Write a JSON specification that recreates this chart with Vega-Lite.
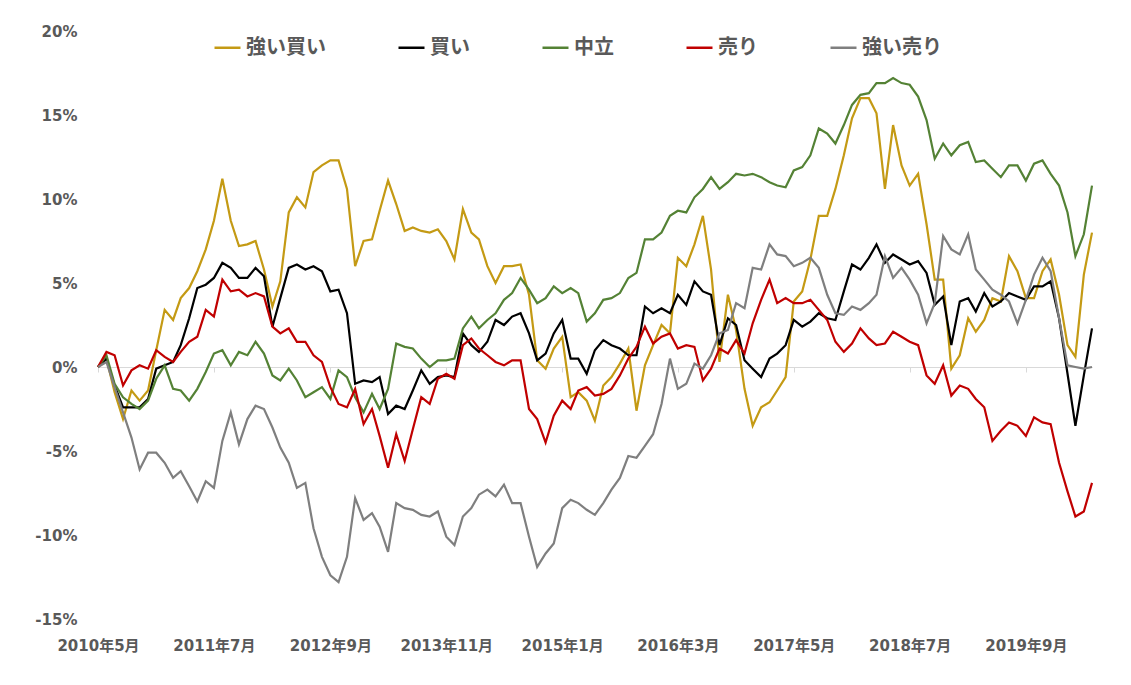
{
  "$schema": "https://vega.github.io/schema/vega-lite/v6.json",
  "width": 994,
  "height": 588,
  "autosize": "none",
  "padding": {"left": 98, "top": 31, "right": 39, "bottom": 66},
  "background": "white",
  "data": {"values": [
    {"m":"2010-05","s":"強い買い","v":0},{"m":"2010-06","s":"強い買い","v":0.5},{"m":"2010-07","s":"強い買い","v":-1.5},{"m":"2010-08","s":"強い買い","v":-3.1},{"m":"2010-09","s":"強い買い","v":-1.4},{"m":"2010-10","s":"強い買い","v":-2.0},{"m":"2010-11","s":"強い買い","v":-1.4},{"m":"2010-12","s":"強い買い","v":1.0},
    {"m":"2011-01","s":"強い買い","v":3.4},{"m":"2011-02","s":"強い買い","v":2.8},{"m":"2011-03","s":"強い買い","v":4.1},{"m":"2011-04","s":"強い買い","v":4.7},{"m":"2011-05","s":"強い買い","v":5.7},{"m":"2011-06","s":"強い買い","v":7.0},{"m":"2011-07","s":"強い買い","v":8.7},{"m":"2011-08","s":"強い買い","v":11.2},{"m":"2011-09","s":"強い買い","v":8.7},{"m":"2011-10","s":"強い買い","v":7.2},{"m":"2011-11","s":"強い買い","v":7.3},{"m":"2011-12","s":"強い買い","v":7.5},
    {"m":"2012-01","s":"強い買い","v":5.8},{"m":"2012-02","s":"強い買い","v":3.6},{"m":"2012-03","s":"強い買い","v":5.1},{"m":"2012-04","s":"強い買い","v":9.2},{"m":"2012-05","s":"強い買い","v":10.1},{"m":"2012-06","s":"強い買い","v":9.5},{"m":"2012-07","s":"強い買い","v":11.6},{"m":"2012-08","s":"強い買い","v":12.0},{"m":"2012-09","s":"強い買い","v":12.3},{"m":"2012-10","s":"強い買い","v":12.3},{"m":"2012-11","s":"強い買い","v":10.6},{"m":"2012-12","s":"強い買い","v":6.0},
    {"m":"2013-01","s":"強い買い","v":7.5},{"m":"2013-02","s":"強い買い","v":7.6},{"m":"2013-03","s":"強い買い","v":9.3},{"m":"2013-04","s":"強い買い","v":11.1},{"m":"2013-05","s":"強い買い","v":9.7},{"m":"2013-06","s":"強い買い","v":8.1},{"m":"2013-07","s":"強い買い","v":8.3},{"m":"2013-08","s":"強い買い","v":8.1},{"m":"2013-09","s":"強い買い","v":8.0},{"m":"2013-10","s":"強い買い","v":8.2},{"m":"2013-11","s":"強い買い","v":7.5},{"m":"2013-12","s":"強い買い","v":6.4},
    {"m":"2014-01","s":"強い買い","v":9.4},{"m":"2014-02","s":"強い買い","v":8.0},{"m":"2014-03","s":"強い買い","v":7.6},{"m":"2014-04","s":"強い買い","v":6.0},{"m":"2014-05","s":"強い買い","v":5.0},{"m":"2014-06","s":"強い買い","v":6.0},{"m":"2014-07","s":"強い買い","v":6.0},{"m":"2014-08","s":"強い買い","v":6.1},{"m":"2014-09","s":"強い買い","v":4.3},{"m":"2014-10","s":"強い買い","v":0.4},{"m":"2014-11","s":"強い買い","v":-0.1},{"m":"2014-12","s":"強い買い","v":1.1},
    {"m":"2015-01","s":"強い買い","v":1.8},{"m":"2015-02","s":"強い買い","v":-1.8},{"m":"2015-03","s":"強い買い","v":-1.5},{"m":"2015-04","s":"強い買い","v":-2.0},{"m":"2015-05","s":"強い買い","v":-3.2},{"m":"2015-06","s":"強い買い","v":-1.1},{"m":"2015-07","s":"強い買い","v":-0.6},{"m":"2015-08","s":"強い買い","v":0.2},{"m":"2015-09","s":"強い買い","v":1.1},{"m":"2015-10","s":"強い買い","v":-2.6},{"m":"2015-11","s":"強い買い","v":0.1},{"m":"2015-12","s":"強い買い","v":1.3},
    {"m":"2016-01","s":"強い買い","v":2.5},{"m":"2016-02","s":"強い買い","v":2.0},{"m":"2016-03","s":"強い買い","v":6.5},{"m":"2016-04","s":"強い買い","v":6.0},{"m":"2016-05","s":"強い買い","v":7.3},{"m":"2016-06","s":"強い買い","v":9.0},{"m":"2016-07","s":"強い買い","v":5.8},{"m":"2016-08","s":"強い買い","v":0.3},{"m":"2016-09","s":"強い買い","v":4.3},{"m":"2016-10","s":"強い買い","v":2.2},{"m":"2016-11","s":"強い買い","v":-1.3},{"m":"2016-12","s":"強い買い","v":-3.5},
    {"m":"2017-01","s":"強い買い","v":-2.4},{"m":"2017-02","s":"強い買い","v":-2.1},{"m":"2017-03","s":"強い買い","v":-1.4},{"m":"2017-04","s":"強い買い","v":-0.6},{"m":"2017-05","s":"強い買い","v":3.9},{"m":"2017-06","s":"強い買い","v":4.5},{"m":"2017-07","s":"強い買い","v":6.4},{"m":"2017-08","s":"強い買い","v":9.0},{"m":"2017-09","s":"強い買い","v":9.0},{"m":"2017-10","s":"強い買い","v":10.6},{"m":"2017-11","s":"強い買い","v":12.6},{"m":"2017-12","s":"強い買い","v":14.8},
    {"m":"2018-01","s":"強い買い","v":16.0},{"m":"2018-02","s":"強い買い","v":16.0},{"m":"2018-03","s":"強い買い","v":15.1},{"m":"2018-04","s":"強い買い","v":10.6},{"m":"2018-05","s":"強い買い","v":14.4},{"m":"2018-06","s":"強い買い","v":12.0},{"m":"2018-07","s":"強い買い","v":10.8},{"m":"2018-08","s":"強い買い","v":11.5},{"m":"2018-09","s":"強い買い","v":8.5},{"m":"2018-10","s":"強い買い","v":5.2},{"m":"2018-11","s":"強い買い","v":5.2},{"m":"2018-12","s":"強い買い","v":-0.1},
    {"m":"2019-01","s":"強い買い","v":0.7},{"m":"2019-02","s":"強い買い","v":2.9},{"m":"2019-03","s":"強い買い","v":2.1},{"m":"2019-04","s":"強い買い","v":2.8},{"m":"2019-05","s":"強い買い","v":4.1},{"m":"2019-06","s":"強い買い","v":3.9},{"m":"2019-07","s":"強い買い","v":6.6},{"m":"2019-08","s":"強い買い","v":5.7},{"m":"2019-09","s":"強い買い","v":4.1},{"m":"2019-10","s":"強い買い","v":4.1},{"m":"2019-11","s":"強い買い","v":5.7},{"m":"2019-12","s":"強い買い","v":6.4},
    {"m":"2020-01","s":"強い買い","v":4.3},{"m":"2020-02","s":"強い買い","v":1.3},{"m":"2020-03","s":"強い買い","v":0.6},{"m":"2020-04","s":"強い買い","v":5.5},{"m":"2020-05","s":"強い買い","v":8.0},

    {"m":"2010-05","s":"買い","v":0},{"m":"2010-06","s":"買い","v":0.5},{"m":"2010-07","s":"買い","v":-1.1},{"m":"2010-08","s":"買い","v":-2.4},{"m":"2010-09","s":"買い","v":-2.4},{"m":"2010-10","s":"買い","v":-2.4},{"m":"2010-11","s":"買い","v":-1.9},{"m":"2010-12","s":"買い","v":-0.1},
    {"m":"2011-01","s":"買い","v":0.1},{"m":"2011-02","s":"買い","v":0.3},{"m":"2011-03","s":"買い","v":1.3},{"m":"2011-04","s":"買い","v":2.9},{"m":"2011-05","s":"買い","v":4.7},{"m":"2011-06","s":"買い","v":4.9},{"m":"2011-07","s":"買い","v":5.3},{"m":"2011-08","s":"買い","v":6.2},{"m":"2011-09","s":"買い","v":5.9},{"m":"2011-10","s":"買い","v":5.3},{"m":"2011-11","s":"買い","v":5.3},{"m":"2011-12","s":"買い","v":5.9},
    {"m":"2012-01","s":"買い","v":5.4},{"m":"2012-02","s":"買い","v":2.4},{"m":"2012-03","s":"買い","v":4.1},{"m":"2012-04","s":"買い","v":5.9},{"m":"2012-05","s":"買い","v":6.1},{"m":"2012-06","s":"買い","v":5.8},{"m":"2012-07","s":"買い","v":6.0},{"m":"2012-08","s":"買い","v":5.7},{"m":"2012-09","s":"買い","v":4.5},{"m":"2012-10","s":"買い","v":4.6},{"m":"2012-11","s":"買い","v":3.2},{"m":"2012-12","s":"買い","v":-1.0},
    {"m":"2013-01","s":"買い","v":-0.8},{"m":"2013-02","s":"買い","v":-0.9},{"m":"2013-03","s":"買い","v":-0.6},{"m":"2013-04","s":"買い","v":-2.8},{"m":"2013-05","s":"買い","v":-2.3},{"m":"2013-06","s":"買い","v":-2.5},{"m":"2013-07","s":"買い","v":-1.4},{"m":"2013-08","s":"買い","v":-0.2},{"m":"2013-09","s":"買い","v":-1.0},{"m":"2013-10","s":"買い","v":-0.6},{"m":"2013-11","s":"買い","v":-0.5},{"m":"2013-12","s":"買い","v":-0.6},
    {"m":"2014-01","s":"買い","v":2.0},{"m":"2014-02","s":"買い","v":1.3},{"m":"2014-03","s":"買い","v":0.9},{"m":"2014-04","s":"買い","v":1.5},{"m":"2014-05","s":"買い","v":2.8},{"m":"2014-06","s":"買い","v":2.5},{"m":"2014-07","s":"買い","v":3.0},{"m":"2014-08","s":"買い","v":3.2},{"m":"2014-09","s":"買い","v":2.0},{"m":"2014-10","s":"買い","v":0.4},{"m":"2014-11","s":"買い","v":0.8},{"m":"2014-12","s":"買い","v":2.0},
    {"m":"2015-01","s":"買い","v":2.8},{"m":"2015-02","s":"買い","v":0.5},{"m":"2015-03","s":"買い","v":0.5},{"m":"2015-04","s":"買い","v":-0.4},{"m":"2015-05","s":"買い","v":1.0},{"m":"2015-06","s":"買い","v":1.6},{"m":"2015-07","s":"買い","v":1.3},{"m":"2015-08","s":"買い","v":1.1},{"m":"2015-09","s":"買い","v":0.7},{"m":"2015-10","s":"買い","v":0.7},{"m":"2015-11","s":"買い","v":3.6},{"m":"2015-12","s":"買い","v":3.2},
    {"m":"2016-01","s":"買い","v":3.5},{"m":"2016-02","s":"買い","v":3.2},{"m":"2016-03","s":"買い","v":4.3},{"m":"2016-04","s":"買い","v":3.7},{"m":"2016-05","s":"買い","v":5.1},{"m":"2016-06","s":"買い","v":4.5},{"m":"2016-07","s":"買い","v":4.3},{"m":"2016-08","s":"買い","v":1.3},{"m":"2016-09","s":"買い","v":2.9},{"m":"2016-10","s":"買い","v":2.5},{"m":"2016-11","s":"買い","v":0.4},{"m":"2016-12","s":"買い","v":-0.1},
    {"m":"2017-01","s":"買い","v":-0.6},{"m":"2017-02","s":"買い","v":0.5},{"m":"2017-03","s":"買い","v":0.8},{"m":"2017-04","s":"買い","v":1.3},{"m":"2017-05","s":"買い","v":2.8},{"m":"2017-06","s":"買い","v":2.4},{"m":"2017-07","s":"買い","v":2.7},{"m":"2017-08","s":"買い","v":3.2},{"m":"2017-09","s":"買い","v":2.9},{"m":"2017-10","s":"買い","v":2.8},{"m":"2017-11","s":"買い","v":4.5},{"m":"2017-12","s":"買い","v":6.1},
    {"m":"2018-01","s":"買い","v":5.8},{"m":"2018-02","s":"買い","v":6.5},{"m":"2018-03","s":"買い","v":7.3},{"m":"2018-04","s":"買い","v":6.2},{"m":"2018-05","s":"買い","v":6.7},{"m":"2018-06","s":"買い","v":6.4},{"m":"2018-07","s":"買い","v":6.1},{"m":"2018-08","s":"買い","v":6.3},{"m":"2018-09","s":"買い","v":5.6},{"m":"2018-10","s":"買い","v":3.7},{"m":"2018-11","s":"買い","v":4.2},{"m":"2018-12","s":"買い","v":1.3},
    {"m":"2019-01","s":"買い","v":3.9},{"m":"2019-02","s":"買い","v":4.1},{"m":"2019-03","s":"買い","v":3.3},{"m":"2019-04","s":"買い","v":4.4},{"m":"2019-05","s":"買い","v":3.6},{"m":"2019-06","s":"買い","v":3.9},{"m":"2019-07","s":"買い","v":4.4},{"m":"2019-08","s":"買い","v":4.2},{"m":"2019-09","s":"買い","v":4.0},{"m":"2019-10","s":"買い","v":4.8},{"m":"2019-11","s":"買い","v":4.8},{"m":"2019-12","s":"買い","v":5.1},
    {"m":"2020-01","s":"買い","v":2.9},{"m":"2020-02","s":"買い","v":-0.4},{"m":"2020-03","s":"買い","v":-3.5},{"m":"2020-04","s":"買い","v":-0.5},{"m":"2020-05","s":"買い","v":2.3},

    {"m":"2010-05","s":"中立","v":0},{"m":"2010-06","s":"中立","v":0.7},{"m":"2010-07","s":"中立","v":-1.0},{"m":"2010-08","s":"中立","v":-1.8},{"m":"2010-09","s":"中立","v":-2.2},{"m":"2010-10","s":"中立","v":-2.5},{"m":"2010-11","s":"中立","v":-2.0},{"m":"2010-12","s":"中立","v":-0.7},
    {"m":"2011-01","s":"中立","v":0.1},{"m":"2011-02","s":"中立","v":-1.3},{"m":"2011-03","s":"中立","v":-1.4},{"m":"2011-04","s":"中立","v":-2.0},{"m":"2011-05","s":"中立","v":-1.3},{"m":"2011-06","s":"中立","v":-0.3},{"m":"2011-07","s":"中立","v":0.8},{"m":"2011-08","s":"中立","v":1.0},{"m":"2011-09","s":"中立","v":0.1},{"m":"2011-10","s":"中立","v":0.9},{"m":"2011-11","s":"中立","v":0.7},{"m":"2011-12","s":"中立","v":1.5},
    {"m":"2012-01","s":"中立","v":0.8},{"m":"2012-02","s":"中立","v":-0.5},{"m":"2012-03","s":"中立","v":-0.8},{"m":"2012-04","s":"中立","v":-0.1},{"m":"2012-05","s":"中立","v":-0.8},{"m":"2012-06","s":"中立","v":-1.8},{"m":"2012-07","s":"中立","v":-1.5},{"m":"2012-08","s":"中立","v":-1.2},{"m":"2012-09","s":"中立","v":-1.9},{"m":"2012-10","s":"中立","v":-0.2},{"m":"2012-11","s":"中立","v":-0.6},{"m":"2012-12","s":"中立","v":-1.8},
    {"m":"2013-01","s":"中立","v":-2.7},{"m":"2013-02","s":"中立","v":-1.6},{"m":"2013-03","s":"中立","v":-2.5},{"m":"2013-04","s":"中立","v":-1.3},{"m":"2013-05","s":"中立","v":1.4},{"m":"2013-06","s":"中立","v":1.2},{"m":"2013-07","s":"中立","v":1.1},{"m":"2013-08","s":"中立","v":0.5},{"m":"2013-09","s":"中立","v":0.0},{"m":"2013-10","s":"中立","v":0.4},{"m":"2013-11","s":"中立","v":0.4},{"m":"2013-12","s":"中立","v":0.5},
    {"m":"2014-01","s":"中立","v":2.3},{"m":"2014-02","s":"中立","v":3.0},{"m":"2014-03","s":"中立","v":2.3},{"m":"2014-04","s":"中立","v":2.8},{"m":"2014-05","s":"中立","v":3.2},{"m":"2014-06","s":"中立","v":4.0},{"m":"2014-07","s":"中立","v":4.4},{"m":"2014-08","s":"中立","v":5.3},{"m":"2014-09","s":"中立","v":4.6},{"m":"2014-10","s":"中立","v":3.8},{"m":"2014-11","s":"中立","v":4.1},{"m":"2014-12","s":"中立","v":4.8},
    {"m":"2015-01","s":"中立","v":4.4},{"m":"2015-02","s":"中立","v":4.7},{"m":"2015-03","s":"中立","v":4.4},{"m":"2015-04","s":"中立","v":2.7},{"m":"2015-05","s":"中立","v":3.2},{"m":"2015-06","s":"中立","v":4.0},{"m":"2015-07","s":"中立","v":4.1},{"m":"2015-08","s":"中立","v":4.4},{"m":"2015-09","s":"中立","v":5.3},{"m":"2015-10","s":"中立","v":5.6},{"m":"2015-11","s":"中立","v":7.6},{"m":"2015-12","s":"中立","v":7.6},
    {"m":"2016-01","s":"中立","v":8.0},{"m":"2016-02","s":"中立","v":9.0},{"m":"2016-03","s":"中立","v":9.3},{"m":"2016-04","s":"中立","v":9.2},{"m":"2016-05","s":"中立","v":10.1},{"m":"2016-06","s":"中立","v":10.6},{"m":"2016-07","s":"中立","v":11.3},{"m":"2016-08","s":"中立","v":10.6},{"m":"2016-09","s":"中立","v":11.0},{"m":"2016-10","s":"中立","v":11.5},{"m":"2016-11","s":"中立","v":11.4},{"m":"2016-12","s":"中立","v":11.5},
    {"m":"2017-01","s":"中立","v":11.3},{"m":"2017-02","s":"中立","v":11.0},{"m":"2017-03","s":"中立","v":10.8},{"m":"2017-04","s":"中立","v":10.7},{"m":"2017-05","s":"中立","v":11.7},{"m":"2017-06","s":"中立","v":11.9},{"m":"2017-07","s":"中立","v":12.6},{"m":"2017-08","s":"中立","v":14.2},{"m":"2017-09","s":"中立","v":13.9},{"m":"2017-10","s":"中立","v":13.3},{"m":"2017-11","s":"中立","v":14.4},{"m":"2017-12","s":"中立","v":15.6},
    {"m":"2018-01","s":"中立","v":16.2},{"m":"2018-02","s":"中立","v":16.3},{"m":"2018-03","s":"中立","v":16.9},{"m":"2018-04","s":"中立","v":16.9},{"m":"2018-05","s":"中立","v":17.2},{"m":"2018-06","s":"中立","v":16.9},{"m":"2018-07","s":"中立","v":16.8},{"m":"2018-08","s":"中立","v":16.1},{"m":"2018-09","s":"中立","v":14.7},{"m":"2018-10","s":"中立","v":12.4},{"m":"2018-11","s":"中立","v":13.3},{"m":"2018-12","s":"中立","v":12.6},
    {"m":"2019-01","s":"中立","v":13.2},{"m":"2019-02","s":"中立","v":13.4},{"m":"2019-03","s":"中立","v":12.2},{"m":"2019-04","s":"中立","v":12.3},{"m":"2019-05","s":"中立","v":11.8},{"m":"2019-06","s":"中立","v":11.3},{"m":"2019-07","s":"中立","v":12.0},{"m":"2019-08","s":"中立","v":12.0},{"m":"2019-09","s":"中立","v":11.1},{"m":"2019-10","s":"中立","v":12.1},{"m":"2019-11","s":"中立","v":12.3},{"m":"2019-12","s":"中立","v":11.5},
    {"m":"2020-01","s":"中立","v":10.8},{"m":"2020-02","s":"中立","v":9.2},{"m":"2020-03","s":"中立","v":6.6},{"m":"2020-04","s":"中立","v":7.9},{"m":"2020-05","s":"中立","v":10.8},

    {"m":"2010-05","s":"売り","v":0},{"m":"2010-06","s":"売り","v":0.9},{"m":"2010-07","s":"売り","v":0.7},{"m":"2010-08","s":"売り","v":-1.1},{"m":"2010-09","s":"売り","v":-0.2},{"m":"2010-10","s":"売り","v":0.1},{"m":"2010-11","s":"売り","v":-0.1},{"m":"2010-12","s":"売り","v":1.0},
    {"m":"2011-01","s":"売り","v":0.6},{"m":"2011-02","s":"売り","v":0.3},{"m":"2011-03","s":"売り","v":0.9},{"m":"2011-04","s":"売り","v":1.5},{"m":"2011-05","s":"売り","v":1.8},{"m":"2011-06","s":"売り","v":3.4},{"m":"2011-07","s":"売り","v":3.0},{"m":"2011-08","s":"売り","v":5.2},{"m":"2011-09","s":"売り","v":4.5},{"m":"2011-10","s":"売り","v":4.6},{"m":"2011-11","s":"売り","v":4.2},{"m":"2011-12","s":"売り","v":4.4},
    {"m":"2012-01","s":"売り","v":4.2},{"m":"2012-02","s":"売り","v":2.4},{"m":"2012-03","s":"売り","v":2.0},{"m":"2012-04","s":"売り","v":2.3},{"m":"2012-05","s":"売り","v":1.5},{"m":"2012-06","s":"売り","v":1.5},{"m":"2012-07","s":"売り","v":0.7},{"m":"2012-08","s":"売り","v":0.3},{"m":"2012-09","s":"売り","v":-1.2},{"m":"2012-10","s":"売り","v":-2.2},{"m":"2012-11","s":"売り","v":-2.4},{"m":"2012-12","s":"売り","v":-1.3},
    {"m":"2013-01","s":"売り","v":-3.4},{"m":"2013-02","s":"売り","v":-2.5},{"m":"2013-03","s":"売り","v":-4.1},{"m":"2013-04","s":"売り","v":-6.0},{"m":"2013-05","s":"売り","v":-4.0},{"m":"2013-06","s":"売り","v":-5.6},{"m":"2013-07","s":"売り","v":-3.7},{"m":"2013-08","s":"売り","v":-1.8},{"m":"2013-09","s":"売り","v":-2.2},{"m":"2013-10","s":"売り","v":-0.7},{"m":"2013-11","s":"売り","v":-0.4},{"m":"2013-12","s":"売り","v":-0.7},
    {"m":"2014-01","s":"売り","v":1.3},{"m":"2014-02","s":"売り","v":1.7},{"m":"2014-03","s":"売り","v":1.1},{"m":"2014-04","s":"売り","v":0.7},{"m":"2014-05","s":"売り","v":0.3},{"m":"2014-06","s":"売り","v":0.1},{"m":"2014-07","s":"売り","v":0.4},{"m":"2014-08","s":"売り","v":0.4},{"m":"2014-09","s":"売り","v":-2.5},{"m":"2014-10","s":"売り","v":-3.1},{"m":"2014-11","s":"売り","v":-4.5},{"m":"2014-12","s":"売り","v":-2.9},
    {"m":"2015-01","s":"売り","v":-2.0},{"m":"2015-02","s":"売り","v":-2.5},{"m":"2015-03","s":"売り","v":-1.4},{"m":"2015-04","s":"売り","v":-1.2},{"m":"2015-05","s":"売り","v":-1.7},{"m":"2015-06","s":"売り","v":-1.6},{"m":"2015-07","s":"売り","v":-1.3},{"m":"2015-08","s":"売り","v":-0.5},{"m":"2015-09","s":"売り","v":0.5},{"m":"2015-10","s":"売り","v":1.2},{"m":"2015-11","s":"売り","v":2.4},{"m":"2015-12","s":"売り","v":1.4},
    {"m":"2016-01","s":"売り","v":1.8},{"m":"2016-02","s":"売り","v":2.0},{"m":"2016-03","s":"売り","v":1.1},{"m":"2016-04","s":"売り","v":1.3},{"m":"2016-05","s":"売り","v":1.2},{"m":"2016-06","s":"売り","v":-0.8},{"m":"2016-07","s":"売り","v":-0.1},{"m":"2016-08","s":"売り","v":1.1},{"m":"2016-09","s":"売り","v":0.8},{"m":"2016-10","s":"売り","v":1.6},{"m":"2016-11","s":"売り","v":0.8},{"m":"2016-12","s":"売り","v":2.6},
    {"m":"2017-01","s":"売り","v":4.0},{"m":"2017-02","s":"売り","v":5.2},{"m":"2017-03","s":"売り","v":3.8},{"m":"2017-04","s":"売り","v":4.1},{"m":"2017-05","s":"売り","v":3.8},{"m":"2017-06","s":"売り","v":3.8},{"m":"2017-07","s":"売り","v":4.0},{"m":"2017-08","s":"売り","v":3.4},{"m":"2017-09","s":"売り","v":2.8},{"m":"2017-10","s":"売り","v":1.5},{"m":"2017-11","s":"売り","v":0.9},{"m":"2017-12","s":"売り","v":1.4},
    {"m":"2018-01","s":"売り","v":2.3},{"m":"2018-02","s":"売り","v":1.7},{"m":"2018-03","s":"売り","v":1.3},{"m":"2018-04","s":"売り","v":1.4},{"m":"2018-05","s":"売り","v":2.1},{"m":"2018-06","s":"売り","v":1.8},{"m":"2018-07","s":"売り","v":1.5},{"m":"2018-08","s":"売り","v":1.3},{"m":"2018-09","s":"売り","v":-0.5},{"m":"2018-10","s":"売り","v":-1.0},{"m":"2018-11","s":"売り","v":0.1},{"m":"2018-12","s":"売り","v":-1.7},
    {"m":"2019-01","s":"売り","v":-1.1},{"m":"2019-02","s":"売り","v":-1.3},{"m":"2019-03","s":"売り","v":-1.9},{"m":"2019-04","s":"売り","v":-2.4},{"m":"2019-05","s":"売り","v":-4.4},{"m":"2019-06","s":"売り","v":-3.8},{"m":"2019-07","s":"売り","v":-3.3},{"m":"2019-08","s":"売り","v":-3.5},{"m":"2019-09","s":"売り","v":-4.1},{"m":"2019-10","s":"売り","v":-3.0},{"m":"2019-11","s":"売り","v":-3.3},{"m":"2019-12","s":"売り","v":-3.4},
    {"m":"2020-01","s":"売り","v":-5.7},{"m":"2020-02","s":"売り","v":-7.4},{"m":"2020-03","s":"売り","v":-8.9},{"m":"2020-04","s":"売り","v":-8.6},{"m":"2020-05","s":"売り","v":-6.9},

    {"m":"2010-05","s":"強い売り","v":0},{"m":"2010-06","s":"強い売り","v":0.3},{"m":"2010-07","s":"強い売り","v":-1.2},{"m":"2010-08","s":"強い売り","v":-2.7},{"m":"2010-09","s":"強い売り","v":-4.2},{"m":"2010-10","s":"強い売り","v":-6.1},{"m":"2010-11","s":"強い売り","v":-5.1},{"m":"2010-12","s":"強い売り","v":-5.1},
    {"m":"2011-01","s":"強い売り","v":-5.7},{"m":"2011-02","s":"強い売り","v":-6.6},{"m":"2011-03","s":"強い売り","v":-6.2},{"m":"2011-04","s":"強い売り","v":-7.1},{"m":"2011-05","s":"強い売り","v":-8.0},{"m":"2011-06","s":"強い売り","v":-6.8},{"m":"2011-07","s":"強い売り","v":-7.2},{"m":"2011-08","s":"強い売り","v":-4.4},{"m":"2011-09","s":"強い売り","v":-2.7},{"m":"2011-10","s":"強い売り","v":-4.6},{"m":"2011-11","s":"強い売り","v":-3.1},{"m":"2011-12","s":"強い売り","v":-2.3},
    {"m":"2012-01","s":"強い売り","v":-2.5},{"m":"2012-02","s":"強い売り","v":-3.6},{"m":"2012-03","s":"強い売り","v":-4.8},{"m":"2012-04","s":"強い売り","v":-5.7},{"m":"2012-05","s":"強い売り","v":-7.2},{"m":"2012-06","s":"強い売り","v":-6.9},{"m":"2012-07","s":"強い売り","v":-9.6},{"m":"2012-08","s":"強い売り","v":-11.3},{"m":"2012-09","s":"強い売り","v":-12.4},{"m":"2012-10","s":"強い売り","v":-12.8},{"m":"2012-11","s":"強い売り","v":-11.3},{"m":"2012-12","s":"強い売り","v":-7.8},
    {"m":"2013-01","s":"強い売り","v":-9.1},{"m":"2013-02","s":"強い売り","v":-8.7},{"m":"2013-03","s":"強い売り","v":-9.5},{"m":"2013-04","s":"強い売り","v":-11.0},{"m":"2013-05","s":"強い売り","v":-8.1},{"m":"2013-06","s":"強い売り","v":-8.4},{"m":"2013-07","s":"強い売り","v":-8.5},{"m":"2013-08","s":"強い売り","v":-8.8},{"m":"2013-09","s":"強い売り","v":-8.9},{"m":"2013-10","s":"強い売り","v":-8.6},{"m":"2013-11","s":"強い売り","v":-10.1},{"m":"2013-12","s":"強い売り","v":-10.6},
    {"m":"2014-01","s":"強い売り","v":-8.9},{"m":"2014-02","s":"強い売り","v":-8.4},{"m":"2014-03","s":"強い売り","v":-7.6},{"m":"2014-04","s":"強い売り","v":-7.3},{"m":"2014-05","s":"強い売り","v":-7.7},{"m":"2014-06","s":"強い売り","v":-7.0},{"m":"2014-07","s":"強い売り","v":-8.1},{"m":"2014-08","s":"強い売り","v":-8.1},{"m":"2014-09","s":"強い売り","v":-10.1},{"m":"2014-10","s":"強い売り","v":-11.9},{"m":"2014-11","s":"強い売り","v":-11.1},{"m":"2014-12","s":"強い売り","v":-10.5},
    {"m":"2015-01","s":"強い売り","v":-8.4},{"m":"2015-02","s":"強い売り","v":-7.9},{"m":"2015-03","s":"強い売り","v":-8.1},{"m":"2015-04","s":"強い売り","v":-8.5},{"m":"2015-05","s":"強い売り","v":-8.8},{"m":"2015-06","s":"強い売り","v":-8.1},{"m":"2015-07","s":"強い売り","v":-7.3},{"m":"2015-08","s":"強い売り","v":-6.6},{"m":"2015-09","s":"強い売り","v":-5.3},{"m":"2015-10","s":"強い売り","v":-5.4},{"m":"2015-11","s":"強い売り","v":-4.7},{"m":"2015-12","s":"強い売り","v":-4.0},
    {"m":"2016-01","s":"強い売り","v":-2.2},{"m":"2016-02","s":"強い売り","v":0.5},{"m":"2016-03","s":"強い売り","v":-1.3},{"m":"2016-04","s":"強い売り","v":-1.0},{"m":"2016-05","s":"強い売り","v":0.2},{"m":"2016-06","s":"強い売り","v":-0.1},{"m":"2016-07","s":"強い売り","v":0.7},{"m":"2016-08","s":"強い売り","v":2.0},{"m":"2016-09","s":"強い売り","v":2.2},{"m":"2016-10","s":"強い売り","v":3.8},{"m":"2016-11","s":"強い売り","v":3.5},{"m":"2016-12","s":"強い売り","v":5.9},
    {"m":"2017-01","s":"強い売り","v":5.8},{"m":"2017-02","s":"強い売り","v":7.3},{"m":"2017-03","s":"強い売り","v":6.7},{"m":"2017-04","s":"強い売り","v":6.6},{"m":"2017-05","s":"強い売り","v":6.0},{"m":"2017-06","s":"強い売り","v":6.2},{"m":"2017-07","s":"強い売り","v":6.5},{"m":"2017-08","s":"強い売り","v":5.9},{"m":"2017-09","s":"強い売り","v":4.3},{"m":"2017-10","s":"強い売り","v":3.2},{"m":"2017-11","s":"強い売り","v":3.1},{"m":"2017-12","s":"強い売り","v":3.6},
    {"m":"2018-01","s":"強い売り","v":3.4},{"m":"2018-02","s":"強い売り","v":3.8},{"m":"2018-03","s":"強い売り","v":4.3},{"m":"2018-04","s":"強い売り","v":6.6},{"m":"2018-05","s":"強い売り","v":5.3},{"m":"2018-06","s":"強い売り","v":5.9},{"m":"2018-07","s":"強い売り","v":5.2},{"m":"2018-08","s":"強い売り","v":4.3},{"m":"2018-09","s":"強い売り","v":2.6},{"m":"2018-10","s":"強い売り","v":3.8},{"m":"2018-11","s":"強い売り","v":7.8},{"m":"2018-12","s":"強い売り","v":7.0},
    {"m":"2019-01","s":"強い売り","v":6.7},{"m":"2019-02","s":"強い売り","v":7.9},{"m":"2019-03","s":"強い売り","v":5.8},{"m":"2019-04","s":"強い売り","v":5.2},{"m":"2019-05","s":"強い売り","v":4.6},{"m":"2019-06","s":"強い売り","v":4.3},{"m":"2019-07","s":"強い売り","v":3.9},{"m":"2019-08","s":"強い売り","v":2.6},{"m":"2019-09","s":"強い売り","v":4.0},{"m":"2019-10","s":"強い売り","v":5.5},{"m":"2019-11","s":"強い売り","v":6.5},{"m":"2019-12","s":"強い売り","v":5.7},
    {"m":"2020-01","s":"強い売り","v":2.9},{"m":"2020-02","s":"強い売り","v":0.1},{"m":"2020-03","s":"強い売り","v":0.0},{"m":"2020-04","s":"強い売り","v":-0.1},{"m":"2020-05","s":"強い売り","v":0.0}
  ]},
  "mark": {"type": "line", "strokeWidth": 2.2},
  "encoding": {
    "x": {
      "field": "m",
      "type": "temporal",
      "scale": {"type": "utc", "nice": false},
      "axis": {
        "title": null,
        "grid": false,
        "values": [
          {"year": 2010, "month": 5, "utc": true},
          {"year": 2011, "month": 7, "utc": true},
          {"year": 2012, "month": 9, "utc": true},
          {"year": 2013, "month": 11, "utc": true},
          {"year": 2015, "month": 1, "utc": true},
          {"year": 2016, "month": 3, "utc": true},
          {"year": 2017, "month": 5, "utc": true},
          {"year": 2018, "month": 7, "utc": true},
          {"year": 2019, "month": 9, "utc": true}
        ],
        "labelExpr": "utcyear(datum.value) + '年' + (utcmonth(datum.value) + 1) + '月'",
        "offset": -252,
        "domainColor": "#d9d9d9",
        "domainWidth": 1,
        "tickColor": "#d9d9d9",
        "tickSize": 5,
        "labelPadding": 266,
        "labelFlush": false,
        "labelOverlap": false,
        "labelFont": "DejaVu Sans, Noto Sans CJK JP",
        "labelFontSize": 15,
        "labelFontWeight": "bold",
        "labelColor": "#595959"
      }
    },
    "y": {
      "field": "v",
      "type": "quantitative",
      "scale": {"domain": [-15, 20], "nice": false, "zero": false},
      "axis": {
        "title": null,
        "grid": false,
        "domain": false,
        "ticks": false,
        "values": [-15, -10, -5, 0, 5, 10, 15, 20],
        "labelExpr": "datum.value + '%'",
        "labelPadding": 21,
        "labelFont": "DejaVu Sans",
        "labelFontSize": 15,
        "labelFontWeight": "bold",
        "labelColor": "#595959"
      }
    },
    "color": {
      "field": "s",
      "type": "nominal",
      "scale": {
        "domain": ["強い買い", "買い", "中立", "売り", "強い売り"],
        "range": ["#C49A14", "#000000", "#548235", "#C00000", "#7F7F7F"]
      },
      "legend": {
        "orient": "none",
        "legendX": 115,
        "legendY": 2,
        "direction": "horizontal",
        "title": null,
        "padding": 0,
        "symbolType": "stroke",
        "symbolSize": 676,
        "symbolStrokeWidth": 2.5,
        "labelOffset": 4,
        "columnPadding": 67,
        "labelFont": "Noto Sans CJK JP",
        "labelFontSize": 20,
        "labelFontWeight": "bold",
        "labelColor": "#595959"
      }
    }
  },
  "config": {
    "view": {"stroke": null}
  }
}
